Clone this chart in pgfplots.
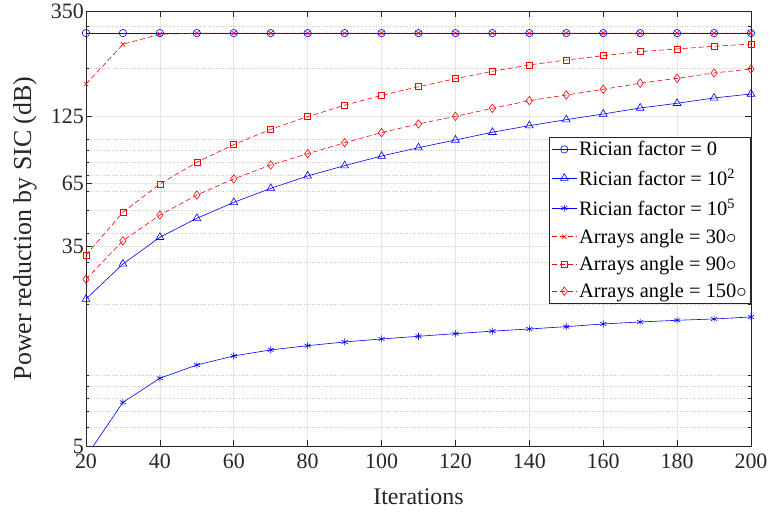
\documentclass[border=0pt]{standalone}
\usepackage{pgfplots}
\pgfplotsset{compat=1.18}
\usepackage{fontspec}
\setmainfont{Liberation Serif}
\definecolor{axgray}{rgb}{0.15,0.15,0.15}
\newcommand{\dg}{{\fontsize{21}{21}\selectfont$\circ$}}
\begin{document}
\begin{tikzpicture}
\begin{axis}[
  scale only axis, width=665bp, height=435bp,
  ymode=log, xmin=20, xmax=200, ymin=5, ymax=350,
  xtick={20,40,...,200},
  ytick={5,35,65,125,350}, yticklabels={5,35,65,125,350},
  minor ytick={6,7,8,9,10,20,30,40,50,60,70,80,90,100,200,300},
  /pgf/number format/assume math mode=true,
  grid=both,
  major grid style={black!10, line width=0.7bp},
  minor grid style={black!22, line width=0.6bp, dotted},
  axis line style={axgray, line width=0.7bp},
  tick style={axgray, line width=0.6bp},
  major tick length=6bp, minor tick length=3.5bp,
  tick align=inside,
  ticklabel style={font=\fontsize{22}{24}\selectfont, text=axgray},
  xticklabel style={yshift=-7bp, inner sep=1bp},
  yticklabel style={xshift=-1bp, inner sep=1bp},
  every axis x label/.style={at={(axis description cs:0.5,-0.117)}, anchor=center, font=\fontsize{24}{26}\selectfont, text=axgray},
  every axis y label/.style={at={(axis description cs:-0.0917,0.5)}, rotate=90, anchor=center, font=\fontsize{26}{30}\selectfont, text=axgray},
  xlabel={Iterations},
  ylabel={Power reduction by SIC (dB)},
  legend style={at={(1,0.71)}, anchor=north east, draw=axgray, line width=0.6bp,
    font=\fontsize{20.5}{23}\selectfont, inner sep=2bp, row sep=7.6bp,
    cells={anchor=west}},
  legend image code/.code={\draw[mark repeat=2,mark phase=2,#1] plot coordinates {(0bp,0bp) (12.5bp,0bp) (25bp,0bp)};},
  every axis plot/.append style={line width=0.6bp},
]
\addplot[blue, mark=o, mark size=3.7bp] coordinates {
(20,282)(30,282)(40,282)(50,282)(60,282)(70,282)(80,282)(90,282)(100,282)(110,282)
(120,282)(130,282)(140,282)(150,282)(160,282)(170,282)(180,282)(190,282)(200,282)};
\addlegendentry{Rician factor = 0}
\addplot[blue, mark=triangle, mark size=4.5bp] coordinates {
(20,21.0)(30,29.6)(40,38.4)(50,46.2)(60,54.0)(70,61.9)(80,69.9)(90,77.3)(100,84.9)(110,92.1)
(120,99.3)(130,107.1)(140,114.2)(150,121.1)(160,128.0)(170,135.7)(180,142.1)(190,149.7)(200,155.6)};
\addlegendentry{Rician factor = 10\textsuperscript{2}}
\addplot[blue, mark=asterisk, mark size=3.5bp] coordinates {
(20,4.5)(30,7.66)(40,9.69)(50,11.03)(60,12.05)(70,12.78)(80,13.32)(90,13.81)(100,14.22)(110,14.60)
(120,14.98)(130,15.35)(140,15.68)(150,16.04)(160,16.47)(170,16.79)(180,17.07)(190,17.29)(200,17.63)};
\addlegendentry{Rician factor = 10\textsuperscript{5}}
\addplot[red, dash pattern=on 5bp off 3bp, mark=x, mark size=3bp, mark options={solid}] coordinates {
(20,171.5)(30,252.8)(40,279)(50,282)(60,282)(70,282)(80,282)(90,282)(100,282)(110,282)
(120,282)(130,282)(140,282)(150,282)(160,282)(170,282)(180,282)(190,282)(200,282)};
\addlegendentry{Arrays angle = 30\dg}
\addplot[red, dash pattern=on 5bp off 3bp, mark=square, mark size=3bp, mark options={solid}] coordinates {
(20,32.3)(30,49.0)(40,64.6)(50,79.9)(60,94.9)(70,110.2)(80,124.7)(90,139.4)(100,153.5)(110,167.1)
(120,180.7)(130,194.2)(140,206.6)(150,216.9)(160,226.1)(170,235.2)(180,241.6)(190,248.0)(200,253.6)};
\addlegendentry{Arrays angle = 90\dg}
\addplot[red, dash pattern=on 5bp off 3bp, mark=diamond, mark size=4.2bp, mark options={solid}] coordinates {
(20,25.5)(30,37.1)(40,47.7)(50,58.0)(60,67.9)(70,77.8)(80,86.8)(90,96.7)(100,106.7)(110,116.1)
(120,125.1)(130,135.3)(140,145.8)(150,154.1)(160,162.9)(170,172.8)(180,181.4)(190,191.1)(200,198.6)};
\addlegendentry{Arrays angle = 150\dg}
\end{axis}
\pgfresetboundingbox
\path ([xshift=-86bp,yshift=-70bp]current axis.south west) rectangle ([xshift=19bp,yshift=11bp]current axis.north east);
\end{tikzpicture}
\end{document}
